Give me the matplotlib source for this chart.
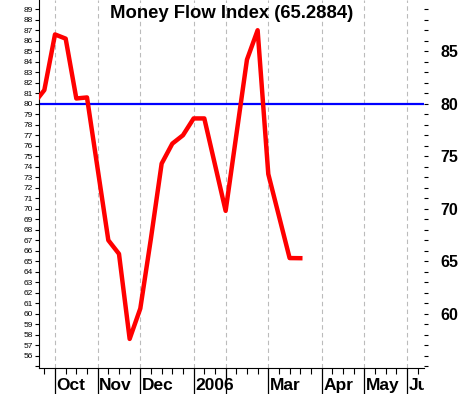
import matplotlib
matplotlib.use('Agg')
import matplotlib.pyplot as plt
import matplotlib.transforms as mtransforms

plt.rcParams['font.family'] = ['Liberation Sans', 'DejaVu Sans']

# weekly bars, index 0 = first visible week
weeks = list(range(-1, 25))
mfi = [80.0, 81.3, 86.6, 86.2, 80.5, 80.6, 73.8, 67.0, 65.7, 57.6,
       60.5, 67.2, 74.3, 76.2, 77.0, 78.6, 78.6, 74.2, 69.8, 77.0,
       84.2, 87.0, 73.3, 69.3, 65.3, 65.2884]
last_value = 65.2884
level = 80

month_pos = [1, 5, 9, 14, 17, 21, 26, 30, 34]
month_labels = ['Oct', 'Nov', 'Dec', '2006', '', 'Mar', 'Apr', 'May', 'Jun']

W, H = 462, 394
fig = plt.figure(figsize=(W / 100, H / 100), dpi=100)
ax = fig.add_axes([39 / W, 26 / H, 385 / W, 368 / H])

for m in month_pos:
    ax.axvline(m, color='#bbbbbb', lw=0.8, ls=(0, (4, 3)), zorder=1)
ax.axhline(level, color='blue', lw=1.6, zorder=2)
ax.plot(weeks, mfi, color='red', lw=3.2, zorder=3)

ax.set_xlim(-0.5, 35.6)
ax.set_ylim(54.83, 89.88)
ax.spines['top'].set_visible(False)
ax.spines['right'].set_visible(False)

# left axis: every integer
yt = list(range(55, 90))
ax.set_yticks(yt)
ax.set_yticklabels(['' if v == 55 else str(v) for v in yt])
ax.tick_params(axis='y', direction='out', length=2.9, width=0.8, labelsize=6, pad=1.5)

# bottom axis: long ticks at months, short ticks at weeks
ax.set_xticks(month_pos)
ax.set_xticklabels([''] * len(month_pos))
ax.set_xticks(range(0, 36), minor=True)
ax.tick_params(axis='x', which='major', direction='out', length=19, width=0.9)
ax.tick_params(axis='x', which='minor', direction='out', length=4.3, width=0.8)

# right axis
ax2 = ax.twinx()
ax2.set_ylim(ax.get_ylim())
for s in ax2.spines.values():
    s.set_visible(False)
ax2.set_yticks(yt)
ax2.set_yticklabels([str(v) if v % 5 == 0 and 60 <= v <= 85 else '' for v in yt],
                    fontsize=11.5, fontweight='bold')
ax2.tick_params(axis='y', direction='out', length=2.6, width=0.8, pad=9)

# month labels, cut off at the right edge of the plot
trans = mtransforms.offset_copy(ax.get_xaxis_transform(), fig=fig, x=1.5, y=-22, units='dots')
clip = mtransforms.Bbox([[0, 0], [424, H]])
for m, lab in zip(month_pos, month_labels):
    t = fig.text(m, 0, lab, transform=trans, ha='left', va='baseline',
                 fontsize=12.5, fontweight='bold')
    t.set_clip_box(clip)
    t.set_clip_on(True)

ax.text(0.5, 1 - 18.3 / 368, f'Money Flow Index ({last_value})', transform=ax.transAxes,
        ha='center', va='baseline', fontsize=13.3, fontweight='bold')

plt.savefig('out.png', dpi=100)
